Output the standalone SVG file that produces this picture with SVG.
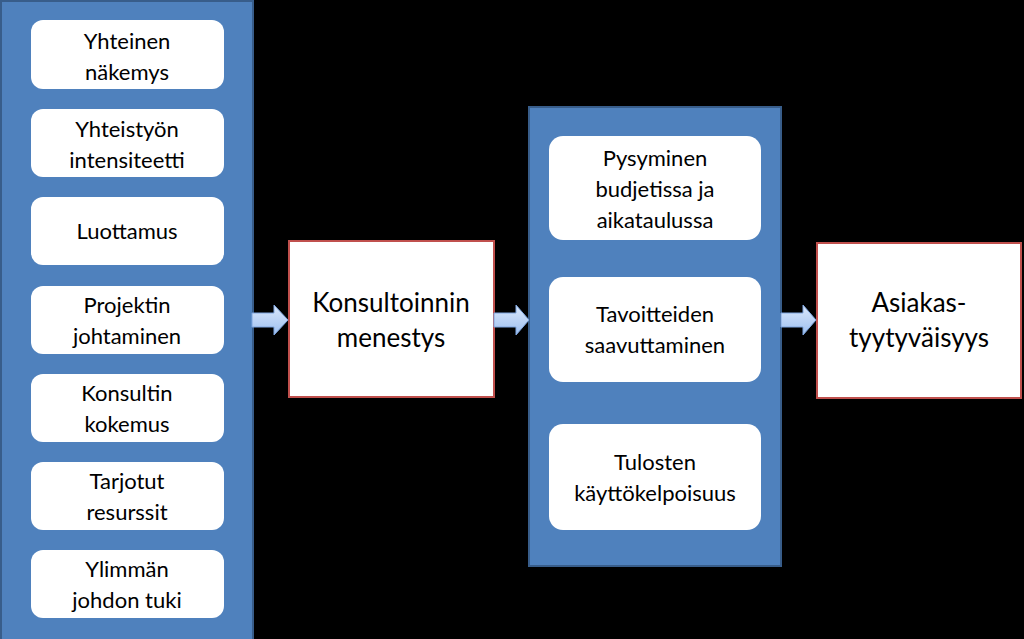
<svg xmlns="http://www.w3.org/2000/svg" width="1024" height="639" viewBox="0 0 1024 639">
<defs>
<linearGradient id="ag" x1="0" y1="0" x2="0" y2="1"><stop offset="0" stop-color="#dbe8fb"/><stop offset="1" stop-color="#9dbff0"/></linearGradient>
<style>
.panel{fill:#4f81bd;stroke:#385d8a;stroke-width:2}
.item{fill:#fff;stroke:none}
.main{fill:#fff;stroke:#c0504d;stroke-width:2}
.t{font-family:Lato,"Open Sans","Liberation Sans",sans-serif;font-size:22px;fill:#000;text-anchor:middle}
.tb{font-family:Lato,"Open Sans","Liberation Sans",sans-serif;font-size:26px;fill:#000;text-anchor:middle}
.arr{fill:url(#ag);stroke:#7ea6e0;stroke-width:1}
</style>
</defs>
<rect width="1024" height="639" fill="#000"/>
<g id="left-panel">
<rect class="panel" x="1" y="1" width="252" height="640"/>
<g id="n1"><rect class="item" x="31" y="20" width="193" height="69" rx="12"/><text class="t" x="127" y="49">Yhteinen</text><text class="t" x="127" y="80">näkemys</text></g>
<g id="n2"><rect class="item" x="31" y="109" width="193" height="68" rx="12"/><text class="t" x="127" y="137">Yhteistyön</text><text class="t" x="127" y="168">intensiteetti</text></g>
<g id="n3"><rect class="item" x="31" y="197" width="193" height="68" rx="12"/><text class="t" x="127" y="239">Luottamus</text></g>
<g id="n4"><rect class="item" x="31" y="286" width="193" height="68" rx="12"/><text class="t" x="127" y="313">Projektin</text><text class="t" x="127" y="344">johtaminen</text></g>
<g id="n5"><rect class="item" x="31" y="374" width="193" height="68" rx="12"/><text class="t" x="127" y="401">Konsultin</text><text class="t" x="127" y="432">kokemus</text></g>
<g id="n6"><rect class="item" x="31" y="462" width="193" height="68" rx="12"/><text class="t" x="127" y="489">Tarjotut</text><text class="t" x="127" y="520">resurssit</text></g>
<g id="n7"><rect class="item" x="31" y="550" width="193" height="68" rx="12"/><text class="t" x="127" y="577">Ylimmän</text><text class="t" x="127" y="608">johdon tuki</text></g>
</g>
<g id="konsultoinnin"><rect class="main" x="289" y="241" width="205" height="156"/><text class="tb" x="391" y="312">Konsultoinnin</text><text class="tb" x="391" y="347">menestys</text></g>
<g id="middle-panel">
<rect class="panel" x="529" y="107" width="252" height="459"/>
<g id="m1"><rect class="item" x="549" y="136" width="212" height="104" rx="14"/><text class="t" x="655" y="166">Pysyminen</text><text class="t" x="655" y="197">budjetissa ja</text><text class="t" x="655" y="228">aikataulussa</text></g>
<g id="m2"><rect class="item" x="549" y="277" width="212" height="105" rx="14"/><text class="t" x="655" y="322">Tavoitteiden</text><text class="t" x="655" y="353">saavuttaminen</text></g>
<g id="m3"><rect class="item" x="549" y="424" width="212" height="106" rx="14"/><text class="t" x="655" y="470">Tulosten</text><text class="t" x="655" y="501">käyttökelpoisuus</text></g>
</g>
<g id="asiakas"><rect class="main" x="817" y="243" width="204" height="155"/><text class="tb" x="919" y="312">Asiakas-</text><text class="tb" x="919" y="347">tyytyväisyys</text></g>
<g id="connectors">
<path class="arr" d="M252,313 h22 v-8 l14,15 l-14,15 v-8 h-22 z"/>
<path class="arr" d="M494,313 h22 v-8 l13,15 l-13,15 v-8 h-22 z"/>
<path class="arr" d="M781,313 h22 v-8 l13,15 l-13,15 v-8 h-22 z"/>
</g>
</svg>
